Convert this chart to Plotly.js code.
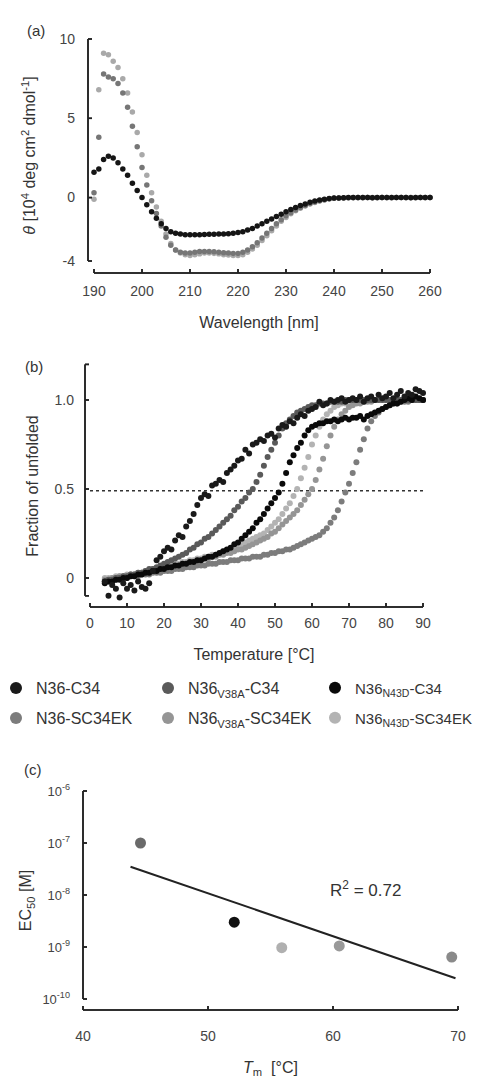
<!DOCTYPE html>
<html><head><meta charset="utf-8">
<script src="https://cdn.plot.ly/plotly-3.0.1.min.js"></script>
<style>html,body{margin:0;padding:0;background:#fff;overflow:hidden}</style>
</head><body><div id="chart" style="width:479px;height:1080px"></div>
<script>
// ---------- Panel (a): CD spectra ----------
const wavelength = [190,191,192,193,194,195,196,197,198,199,200,201,202,203,204,205,206,207,208,209,
  210,211,212,213,214,215,216,217,218,219,220,221,222,223,224,225,226,227,228,229,
  230,231,232,233,234,235,236,237,238,239,240,241,242,243,244,245,246,247,248,249,
  250,251,252,253,254,255,256,257,258,259,260];
const cdBlack = [1.6,1.8,2.4,2.6,2.5,2.2,1.8,1.4,0.9,0.45,
  0.0,-0.45,-0.9,-1.3,-1.65,-1.95,-2.15,-2.25,-2.3,-2.35,
  -2.35,-2.35,-2.35,-2.33,-2.32,-2.32,-2.3,-2.3,-2.28,-2.25,
  -2.2,-2.15,-2.05,-1.95,-1.8,-1.65,-1.5,-1.35,-1.2,-1.05,
  -0.9,-0.75,-0.62,-0.5,-0.4,-0.3,-0.22,-0.15,-0.1,-0.06,
  -0.03,-0.02,-0.01,0,0,0.01,0,0,-0.01,0,
  0,0,0.01,0,0,0,-0.01,0,0,0,
  0];
const cdDarkGrey = [0.3,3.8,7.8,7.6,7.5,7.2,6.6,5.7,4.5,3.2,
  1.9,0.8,-0.2,-1.0,-1.8,-2.5,-3.0,-3.3,-3.45,-3.5,
  -3.5,-3.45,-3.4,-3.4,-3.4,-3.42,-3.45,-3.48,-3.5,-3.52,
  -3.52,-3.45,-3.3,-3.1,-2.85,-2.55,-2.25,-1.95,-1.65,-1.4,
  -1.15,-0.95,-0.78,-0.63,-0.5,-0.38,-0.28,-0.2,-0.13,-0.08,
  -0.05,-0.03,-0.02,-0.01,-0.01,0,-0.01,0,0,-0.01,
  0,0,-0.01,0,0,0,0,-0.01,0,0,
  0];
const cdLightGrey = [-0.1,6.8,9.1,9.0,8.6,8.2,7.5,6.6,5.4,4.1,
  2.7,1.4,0.3,-0.6,-1.5,-2.3,-2.9,-3.3,-3.5,-3.6,
  -3.65,-3.6,-3.55,-3.5,-3.5,-3.52,-3.55,-3.6,-3.62,-3.65,
  -3.65,-3.6,-3.45,-3.25,-3.0,-2.7,-2.4,-2.1,-1.8,-1.5,
  -1.25,-1.02,-0.83,-0.67,-0.53,-0.41,-0.31,-0.22,-0.15,-0.09,
  -0.05,-0.03,-0.02,-0.01,0,-0.01,0,0,-0.01,0,
  0,-0.01,0,0,0,-0.01,0,0,0,-0.01,
  0];
const xTicksA = [190,200,210,220,230,240,250,260];
const yTicksA = [-4,0,5,10];
const yTickTextA = ['-4','0','5','10'];

// ---------- Panel (b): thermal melts ----------
const temperature = [4,5,6,7,8,9,10,11,12,13,14,15,16,17,18,19,20,21,22,23,24,25,26,27,28,29,30,31,32,33,
  34,35,36,37,38,39,40,41,42,43,44,45,46,47,48,49,50,51,52,53,54,55,56,57,58,59,60,61,62,63,
  64,65,66,67,68,69,70,71,72,73,74,75,76,77,78,79,80,81,82,83,84,85,86,87,88,89,90];
const fuN36C34 = [-0.02,-0.10,-0.04,-0.06,-0.11,-0.03,-0.06,-0.04,-0.07,-0.02,
  -0.05,-0.06,-0.03,0.04,0.10,0.12,0.15,0.17,0.16,0.21,
  0.24,0.23,0.29,0.32,0.36,0.41,0.45,0.47,0.46,0.52,
  0.53,0.55,0.54,0.59,0.61,0.63,0.66,0.67,0.72,0.70,
  0.75,0.76,0.78,0.77,0.80,0.81,0.79,0.84,0.86,0.85,
  0.88,0.87,0.90,0.92,0.91,0.94,0.95,0.96,0.99,0.97,
  0.98,1.00,0.99,1.00,1.01,0.99,1.00,1.01,1.00,1.02,
  0.99,1.01,1.02,1.00,1.03,1.01,1.02,1.04,1.01,1.03,
  1.05,1.02,1.04,1.03,1.06,1.05,1.04];
const fuV38AC34 = [-0.02,-0.01,-0.01,0.00,0.00,0.01,0.01,0.02,0.02,0.03,
  0.03,0.04,0.05,0.05,0.06,0.07,0.08,0.09,0.10,0.11,
  0.12,0.13,0.14,0.16,0.17,0.19,0.20,0.22,0.23,0.25,
  0.27,0.29,0.31,0.33,0.35,0.38,0.40,0.43,0.45,0.48,
  0.50,0.54,0.58,0.63,0.68,0.72,0.76,0.80,0.84,0.87,
  0.89,0.91,0.93,0.94,0.95,0.96,0.97,0.97,0.98,0.98,
  0.98,0.99,0.99,0.99,0.99,1.00,1.00,1.00,1.00,1.00,
  1.00,1.00,1.00,1.00,1.00,1.00,1.00,1.00,1.00,1.00,
  1.00,1.00,1.00,1.00,1.00,1.00,1.00];
const fuN43DC34 = [-0.03,-0.02,-0.02,-0.01,-0.01,0.00,0.00,0.01,0.01,0.02,
  0.02,0.03,0.03,0.04,0.04,0.05,0.05,0.06,0.06,0.07,
  0.07,0.08,0.08,0.09,0.09,0.10,0.10,0.11,0.12,0.12,
  0.13,0.14,0.15,0.16,0.17,0.19,0.20,0.22,0.24,0.26,
  0.28,0.31,0.33,0.36,0.39,0.42,0.45,0.48,0.53,0.59,
  0.65,0.69,0.73,0.76,0.80,0.83,0.85,0.86,0.87,0.87,
  0.88,0.88,0.89,0.88,0.89,0.90,0.89,0.90,0.90,0.91,
  0.89,0.91,0.92,0.93,0.94,0.95,0.96,0.97,0.98,0.98,
  0.99,1.00,1.01,1.00,1.02,1.01,1.00];
const fuN36SC34EK = [-0.02,-0.02,-0.01,-0.01,0.00,0.00,0.00,0.01,0.01,0.01,
  0.02,0.02,0.02,0.03,0.03,0.03,0.04,0.04,0.04,0.05,
  0.05,0.05,0.06,0.06,0.06,0.07,0.07,0.07,0.08,0.08,
  0.08,0.09,0.09,0.09,0.10,0.10,0.10,0.11,0.11,0.11,
  0.12,0.12,0.12,0.13,0.13,0.14,0.14,0.15,0.15,0.16,
  0.16,0.17,0.18,0.19,0.20,0.21,0.22,0.23,0.24,0.26,
  0.28,0.31,0.34,0.38,0.43,0.48,0.53,0.59,0.65,0.72,
  0.78,0.84,0.88,0.91,0.93,0.95,0.96,0.97,0.98,0.98,
  0.99,0.99,0.99,1.00,1.00,1.00,1.00];
const fuV38ASC34EK = [-0.01,-0.01,0.00,0.00,0.01,0.01,0.01,0.02,0.02,0.02,
  0.03,0.03,0.04,0.04,0.04,0.05,0.05,0.06,0.06,0.07,
  0.07,0.08,0.08,0.09,0.09,0.10,0.10,0.11,0.11,0.12,
  0.12,0.13,0.13,0.14,0.14,0.15,0.16,0.16,0.17,0.18,
  0.19,0.20,0.21,0.22,0.23,0.25,0.26,0.28,0.30,0.32,
  0.34,0.36,0.38,0.41,0.44,0.47,0.50,0.55,0.61,0.67,
  0.74,0.80,0.85,0.89,0.92,0.94,0.96,0.97,0.98,0.98,
  0.99,0.99,0.99,1.00,1.00,1.00,1.00,1.00,1.00,1.00,
  1.00,1.00,1.00,1.00,1.00,1.00,1.00];
const fuN43DSC34EK = [0.00,0.00,0.00,0.01,0.01,0.01,0.02,0.02,0.02,0.03,
  0.03,0.04,0.04,0.05,0.05,0.06,0.06,0.07,0.07,0.08,
  0.08,0.09,0.09,0.10,0.10,0.11,0.11,0.12,0.12,0.13,
  0.13,0.14,0.15,0.15,0.16,0.17,0.18,0.19,0.20,0.21,
  0.22,0.23,0.24,0.25,0.27,0.29,0.31,0.33,0.36,0.39,
  0.42,0.46,0.50,0.56,0.62,0.68,0.75,0.80,0.85,0.89,
  0.92,0.94,0.96,0.97,0.98,0.98,0.99,0.99,0.99,1.00,
  1.00,1.00,1.00,1.00,1.00,1.00,1.00,1.00,1.00,1.00,
  1.00,1.00,1.00,1.00,1.00,1.00,1.00];
const halfLineX = [0, 91];
const halfLineY = [0.49, 0.49];
const seriesNames = ['N36-C34','N36<sub>V38A</sub>-C34','N36<sub>N43D</sub>-C34',
  'N36-SC34EK','N36<sub>V38A</sub>-SC34EK','N36<sub>N43D</sub>-SC34EK'];
const xTicksB = [0,10,20,30,40,50,60,70,80,90];
const yTicksB = [-0.1,0,0.5,1.0,1.2];
const yTickTextB = ['','0','0.5','1.0',''];

// ---------- Panel (c): EC50 vs Tm ----------
const tmValues = [44.6, 52.1, 55.9, 60.5, 69.5];
const ec50Values = [1.0e-7, 3.0e-9, 0.97e-9, 1.05e-9, 6.4e-10];
const fitX = [43.8, 69.8];
const fitY = [3.5e-8, 2.5e-10];
const rSquaredText = 'R<sup>2</sup> = 0.72';
const xTicksC = [40,50,60,70];
const yTicksC = [1e-10,1e-9,1e-8,1e-7,1e-6];
const yTickTextC = ['10<sup>-10</sup>','10<sup>-9</sup>','10<sup>-8</sup>','10<sup>-7</sup>','10<sup>-6</sup>'];

// ---------- styling / geometry ----------
const W = 479, H = 1080;
const PX = v => v / W, PY = v => 1 - v / H;
const lin = (v0, p0, v1, p1) => ({
  toV: p => v0 + (p - p0) * (v1 - v0) / (p1 - p0),
  toP: v => p0 + (v - v0) * (p1 - p0) / (v1 - v0)
});
const FONT = '"Liberation Sans", Arial, sans-serif';
const seriesColors = ['#1a1a1a','#5a5a5a','#0a0a0a','#7c7c7c','#959595','#b3b3b3'];
const pointColors = ['#6a6a6a','#111111','#b0b0b0','#999999','#8a8a8a'];

const PAD = 3;
const panels = {
  a: {mx:lin(190,94,260,430), my:lin(-4,261,10,39), yLineX:88, xLineY:273, right:430, top:38, logY:false},
  b: {mx:lin(0,90,90,423),   my:lin(0,578,1,400),  yLineX:85, xLineY:607, right:423, top:365, logY:false},
  c: {mx:lin(40,83,70,458),  my:lin(-6,791,-10,999), yLineX:83, xLineY:1010, right:458, top:791, logY:true}
};
Object.values(panels).forEach(p => {
  p.xd = [p.yLineX - PAD, p.right + PAD];
  p.yd = [p.xLineY + PAD, p.top - PAD];
  p.xr = [p.mx.toV(p.xd[0]), p.mx.toV(p.xd[1])];
  p.yr = [p.my.toV(p.yd[0]), p.my.toV(p.yd[1])];
});

const axBase = {showgrid:false, zeroline:false, showline:false, ticks:'',
  tickfont:{family:FONT, size:14, color:'#444'}, fixedrange:true};
const titleFont = {family:FONT, size:16, color:'#333'};

const traces = [];
[[cdLightGrey,'#a9a9a9'],[cdDarkGrey,'#767676'],[cdBlack,'#151515']].forEach(([ys,c]) => {
  traces.push({x:wavelength, y:ys, type:'scatter', mode:'markers', xaxis:'x', yaxis:'y',
    marker:{size:5.5, color:c}, showlegend:false, hoverinfo:'skip'});
});
traces.push({x:halfLineX, y:halfLineY, type:'scatter', mode:'lines', xaxis:'x2', yaxis:'y2',
  line:{color:'#333', width:1.5, dash:'dot'}, showlegend:false, hoverinfo:'skip'});
const melt = [fuN36C34, fuV38AC34, fuN43DC34, fuN36SC34EK, fuV38ASC34EK, fuN43DSC34EK];
const legendIds = ['legend','legend2','legend3','legend4','legend5','legend6'];
[5,4,3,1,2,0].forEach(i => {
  traces.push({x:temperature, y:melt[i], type:'scatter', mode:'markers', xaxis:'x2', yaxis:'y2',
    name:seriesNames[i], legend:legendIds[i], marker:{size:6, color:seriesColors[i]}, hoverinfo:'skip'});
});
traces.push({x:fitX, y:fitY, type:'scatter', mode:'lines', xaxis:'x3', yaxis:'y3',
  line:{color:'#222', width:2}, showlegend:false, hoverinfo:'skip'});
traces.push({x:tmValues, y:ec50Values, type:'scatter', mode:'markers', xaxis:'x3', yaxis:'y3',
  marker:{size:11, color:pointColors}, showlegend:false, hoverinfo:'skip'});

// detached axis frames (lines + inward ticks); tick positions come from each panel's scale.
// Drawn as thin filled rectangles (paper shapes) and, coinciding, as a line trace on a page overlay.
const LW = 1.6;
const fx = [], fy = [], shapes = [];
const seg = (x0, y0, x1, y1) => {
  fx.push(x0, x1, null); fy.push(y0, y1, null);
  const h = LW / 2;
  const xa = Math.min(x0, x1) - (x0 === x1 ? h : 0), xb = Math.max(x0, x1) + (x0 === x1 ? h : 0);
  const ya = Math.min(y0, y1) - (y0 === y1 ? h : 0), yb = Math.max(y0, y1) + (y0 === y1 ? h : 0);
  shapes.push({type:'rect', xref:'paper', yref:'paper', layer:'above',
    x0:PX(xa), x1:PX(xb), y0:PY(yb), y1:PY(ya), fillcolor:'#222', line:{width:0}});
};
function axisFrame(p, xTicks, yTicks) {
  const yP = v => p.my.toP(p.logY ? Math.log10(v) : v);
  const xA = xTicks.map(v => p.mx.toP(v)), yA = yTicks.map(yP);
  seg(xA[0], p.xLineY, xA[xA.length - 1], p.xLineY);
  xA.forEach(x => seg(x, p.xLineY, x, p.xLineY - 4));
  seg(p.yLineX, yA[0], p.yLineX, yA[yA.length - 1]);
  yA.forEach(y => seg(p.yLineX, y, p.yLineX + 4, y));
}
axisFrame(panels.a, xTicksA, yTicksA);
axisFrame(panels.b, xTicksB, yTicksB);
axisFrame(panels.c, xTicksC, yTicksC);
traces.push({x:fx, y:fy, type:'scatter', mode:'lines', xaxis:'x4', yaxis:'y4', connectgaps:false,
  line:{color:'#222', width:1.5, simplify:false}, showlegend:false, hoverinfo:'skip'});

const legendCols = [16, 168, 335];
const legendRows = [688, 718];
const legendFont = [16, 16, 15];
const legends = {};
legendIds.forEach((id, i) => {
  legends[id] = {x:PX(legendCols[i % 3] - 20), y:PY(legendRows[Math.floor(i / 3)]),
    xanchor:'left', yanchor:'middle', xref:'paper', yref:'paper', bgcolor:'rgba(0,0,0,0)',
    font:{family:FONT, size:legendFont[i % 3], color:'#333'}, itemsizing:'constant'};
});

const dom = p => ({x:[PX(p.xd[0]), PX(p.xd[1])], y:[PY(p.yd[0]), PY(p.yd[1])]});
const A = dom(panels.a), B = dom(panels.b), C = dom(panels.c);

const layout = Object.assign({
  width:W, height:H, margin:{l:0, r:0, t:0, b:0, autoexpand:false}, paper_bgcolor:'#fff', plot_bgcolor:'rgba(0,0,0,0)',
  font:{family:FONT, color:'#333'}, showlegend:true,
  xaxis:Object.assign({}, axBase, {anchor:'y', domain:A.x, range:panels.a.xr,
    tickvals:xTicksA, ticklabelstandoff:5,
    title:{text:'Wavelength [nm]', font:titleFont, standoff:18}}),
  yaxis:Object.assign({}, axBase, {anchor:'x', domain:A.y, range:panels.a.yr,
    tickvals:yTicksA, ticktext:yTickTextA, ticklabelstandoff:9,
    title:{text:'<i>θ</i> [10<sup>4</sup> deg cm<sup>2</sup> dmol<sup>-1</sup>]', font:titleFont, standoff:19}}),
  xaxis2:Object.assign({}, axBase, {anchor:'y2', domain:B.x, range:panels.b.xr,
    tickvals:xTicksB, ticklabelstandoff:3,
    title:{text:'Temperature [°C]', font:titleFont, standoff:18}}),
  yaxis2:Object.assign({}, axBase, {anchor:'x2', domain:B.y, range:panels.b.yr,
    tickvals:yTicksB, ticktext:yTickTextB, ticklabelstandoff:7,
    title:{text:'Fraction of unfolded', font:titleFont, standoff:11}}),
  xaxis3:Object.assign({}, axBase, {anchor:'y3', domain:C.x, range:panels.c.xr,
    tickvals:xTicksC, ticklabelstandoff:13,
    title:{text:'<i>T</i><sub>m</sub>  [°C]', font:titleFont, standoff:18}}),
  yaxis3:Object.assign({}, axBase, {anchor:'x3', domain:C.y, type:'log', range:panels.c.yr,
    tickvals:yTicksC, ticktext:yTickTextC,
    tickfont:{family:FONT, size:13, color:'#444'}, ticklabelstandoff:9,
    title:{text:'EC<sub>50</sub> [M]', font:titleFont, standoff:6}}),
  xaxis4:{domain:[0,1], range:[0,W], anchor:'y4', visible:false, fixedrange:true},
  yaxis4:{domain:[0,1], range:[H,0], anchor:'x4', visible:false, fixedrange:true},
  shapes:shapes,
  annotations:[
    {text:'(a)', x:PX(25), y:PY(20), xref:'paper', yref:'paper', showarrow:false, font:{family:FONT, size:15, color:'#333'}},
    {text:'(b)', x:PX(23), y:PY(356), xref:'paper', yref:'paper', showarrow:false, font:{family:FONT, size:15, color:'#333'}},
    {text:'(c)', x:PX(22), y:PY(780), xref:'paper', yref:'paper', showarrow:false, font:{family:FONT, size:15, color:'#333'}},
    {text:rSquaredText, x:PX(403), y:PY(902), xref:'paper', yref:'paper', showarrow:false, font:{family:FONT, size:17, color:'#333'}}
  ]
}, legends);

Plotly.newPlot('chart', traces, layout, {staticPlot:true, displayModeBar:false});
</script></body></html>
